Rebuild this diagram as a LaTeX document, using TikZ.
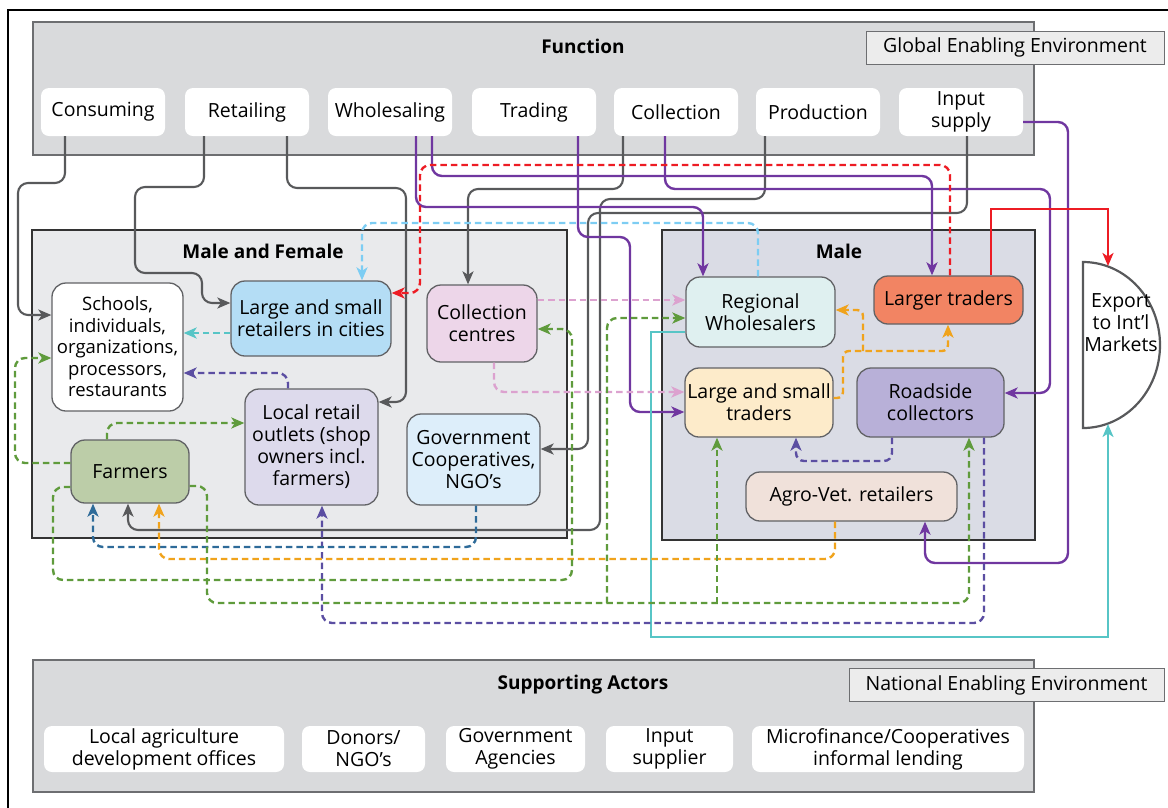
\documentclass[tikz,border=0pt]{standalone}
\usepackage{fontspec}
\setmainfont{Open Sans}
\usetikzlibrary{arrows.meta}

\definecolor{framefill}{HTML}{D9DADC}
\definecolor{frameline}{HTML}{6D6E71}
\definecolor{mfFill}{HTML}{E9EAEC}
\definecolor{mFill}{HTML}{DADCE5}
\definecolor{envFill}{HTML}{ECECEC}
\definecolor{nodeline}{HTML}{616265}
\definecolor{grayline}{HTML}{58595B}
\definecolor{purpline}{HTML}{7037A0}
\definecolor{indigoline}{HTML}{5B4EA2}
\definecolor{redline}{HTML}{ED1C24}
\definecolor{skyline}{HTML}{7DCDF3}
\definecolor{tealline}{HTML}{57C5C6}
\definecolor{pinkline}{HTML}{DCA2CF}
\definecolor{greenline}{HTML}{5F9B3C}
\definecolor{navyline}{HTML}{2E6B99}
\definecolor{orangeline}{HTML}{F0A31C}
\definecolor{cityFill}{HTML}{B4DDF5}
\definecolor{ccFill}{HTML}{EDD6E9}
\definecolor{lroFill}{HTML}{DDDAEC}
\definecolor{govFill}{HTML}{DDEEFA}
\definecolor{farmFill}{HTML}{BCCDA8}
\definecolor{rwFill}{HTML}{DFF0F0}
\definecolor{ltFill}{HTML}{F28463}
\definecolor{lstFill}{HTML}{FDEBCA}
\definecolor{rcFill}{HTML}{B8B0D8}
\definecolor{agroFill}{HTML}{F0E1DA}

\begin{document}
\begin{tikzpicture}[x=1pt,y=-1pt,
  txt/.style={font=\fontsize{19.5}{22}\selectfont},
  ttl/.style={font=\fontsize{19}{22}\selectfont\bfseries},
  fnbox/.style={txt,fill=white,rounded corners=8pt,inner sep=0pt,align=center,minimum height=48,minimum width=124},
  actor/.style={txt,draw=nodeline,line width=1.3pt,rounded corners=14pt,inner sep=0pt,align=center},
  envbox/.style={txt,draw=frameline,fill=envFill,line width=1pt,inner sep=0pt,minimum height=33},
  tipS/.style={-{Stealth[length=13pt,width=11pt,inset=3.5pt]}},
  link/.style={tipS,line width=2.1pt,rounded corners=10pt},
  dlink/.style={link,line width=2.4pt,dash pattern=on 6.5pt off 4pt},
  glink/.style={link,draw=grayline},
  plink/.style={link,draw=purpline,line width=2.4pt}
]
\useasboundingbox (0,0) rectangle (1168,807);
\clip (0,0) rectangle (1168,807);

% outer frame
\draw[line width=2.5pt] (8,830) -- (8,10) -- (1190,10);

% function band
\draw[fill=framefill,draw=frameline,line width=1.5pt] (33,22) rectangle (1034,155);
\node[ttl] (fnttl) at (583,46) {Function};
\node[envbox,minimum width=298] (glob) at (1015,47.5) {Global Enabling Environment};

\node[fnbox] (cons) at (103,112) {Consuming};
\node[fnbox] (ret)  at (247,112) {Retailing};
\node[fnbox] (whol) at (390,112) {Wholesaling};
\node[fnbox] (trad) at (534,112) {Trading};
\node[fnbox] (coll) at (676,112) {Collection};
\node[fnbox] (prod) at (818,112) {Production};
\node[fnbox] (inp)  at (961,112) {Input\\supply};

% supporting actors band
\draw[fill=framefill,draw=frameline,line width=1.5pt] (33,660) rectangle (1034,792);
\node[ttl] (supttl) at (583,685) {Supporting Actors};
\node[envbox,minimum width=315] (nat) at (1006.5,685) {National Enabling Environment};

\node[fnbox,minimum width=240,minimum height=46] (lado)  at (164,749) {Local agriculture\\development offices};
\node[fnbox,minimum width=123,minimum height=46] (don)   at (363.5,749) {Donors/\\NGO's};
\node[fnbox,minimum width=139,minimum height=46] (gova)  at (515.5,749) {Government\\Agencies};
\node[fnbox,minimum width=127,minimum height=46] (inps)  at (669.5,749) {Input\\supplier};
\node[fnbox,minimum width=272,minimum height=46] (micro) at (888,749) {Microfinance/Cooperatives\\informal lending};

% actor groups
\draw[fill=mfFill,draw=black!80,line width=1.5pt] (32,230) rectangle (567,538);
\node[ttl] (mfttl) at (263,251) {Male and Female};
\draw[fill=mFill,draw=black!80,line width=1.5pt] (662,230) rectangle (1035,540);
\node[ttl] (mttl) at (839,251) {Male};

% actors
\node[actor,fill=white,minimum width=131,minimum height=128,font=\fontsize{18.5}{21.5}\selectfont] (sch) at (117.5,347)
  {Schools,\\individuals,\\organizations,\\processors,\\restaurants};
\node[actor,fill=cityFill,minimum width=160,minimum height=75] (city) at (311,318.5)
  {Large and small\\retailers in cities};
\node[actor,fill=ccFill,minimum width=110,minimum height=77] (cc) at (482,323.5)
  {Collection\\centres};
\node[actor,fill=lroFill,minimum width=133,minimum height=116] (lro) at (311.5,447)
  {Local retail\\outlets (shop\\owners incl.\\farmers)};
\node[actor,fill=govFill,minimum width=133,minimum height=91] (gov) at (473.5,459.5)
  {Government\\Cooperatives,\\NGO's};
\node[actor,fill=farmFill,minimum width=118,minimum height=63] (farm) at (130,471.5)
  {Farmers};
\node[actor,fill=rwFill,minimum width=149,minimum height=70] (rw) at (760.5,312)
  {Regional\\Wholesalers};
\node[actor,fill=ltFill,minimum width=149,minimum height=48] (lt) at (948.5,300)
  {Larger traders};
\node[actor,fill=lstFill,minimum width=148,minimum height=69] (lst) at (759,402.5)
  {Large and small\\traders};
\node[actor,fill=rcFill,minimum width=147,minimum height=69] (rc) at (930.5,402.5)
  {Roadside\\collectors};
\node[actor,fill=agroFill,minimum width=211,minimum height=49] (agro) at (851.5,496.5)
  {Agro-Vet. retailers};

% export market (half disc)
\draw[fill=white,draw=grayline,line width=2.2pt] (1083,262) -- (1083,428)
  arc[start angle=90,end angle=-90,x radius=77,y radius=83] -- cycle;
\node[txt,align=center] (exp) at (1121,323) {Export\\to Int'l\\Markets};
\coordinate (expin)  at (1108,266);
\coordinate (expout) at (1108,424);
\coordinate (obr) at (863,351);
\coordinate (gbrA) at (607,603);
\coordinate (gbrB) at (717,603);

% gray flows from functions
\draw[glink] (cons.south -| 65,0) -- (65,183) -- (18,183) -- (18,315) -- (sch.west |- 0,315);
\draw[glink] (ret.south -| 204,0) -- (204,187) -- (135,187) -- (135,273) -- (202,273) -- (202,303) -- (city.west |- 0,303);
\draw[glink] (ret.south -| 287,0) -- (287,188) -- (406,188) -- (406,402) -- (lro.east |- 0,402);
\draw[glink] (coll.south -| 623,0) -- (623,189) -- (468,189) -- (cc.north -| 468,0);
\draw[glink] (prod.south -| 765,0) -- (765,199) -- (600,199) -- (600,530) -- (128,530) -- (farm.south -| 128,0);
\draw[glink] (inp.south -| 967,0) -- (967,213) -- (588,213) -- (588,449) -- (gov.east |- 0,449);

% purple flows from functions
\draw[plink] (whol.south -| 416,0) -- (416,207) -- (703,207) -- (rw.north -| 703,0);
\draw[plink] (whol.south -| 432,0) -- (432,176) -- (932,176) -- (lt.north -| 932,0);
\draw[plink] (trad.south -| 578,0) -- (578,237) -- (630,237) -- (630,412) -- (lst.west |- 0,412);
\draw[plink] (coll.south -| 665,0) -- (665,189) -- (1050,189) -- (1050,393) -- (rc.east |- 0,393);
\draw[plink] (inp.east |- 0,122) -- (1068,122) -- (1068,563) -- (925,563) -- (agro.south -| 925,0);

% larger traders
\draw[dlink,draw=redline] (lt.north -| 950,0) -- (950,165) -- (420,165) -- (420,293) -- (city.east |- 0,293);
\draw[link,draw=redline,line width=2.4pt,rounded corners=0pt] (lt.north -| 991,0) -- (991,209) -- (1108,209) -- (expin);

% regional wholesalers
\draw[dlink,draw=skyline] (rw.north -| 758,0) -- (758,223) -- (362,223) -- (city.north -| 362,0);
\draw[link,draw=tealline,line width=2pt,rounded corners=0pt] (rw.west |- 0,332) -- (651,332) -- (651,637) -- (1108,637) -- (expout);

% retailers in cities
\draw[dlink,draw=tealline] (city.west |- 0,333) -- (sch.east |- 0,333);

% collection centres
\draw[dlink,draw=pinkline] (cc.east |- 0,300) -- (rw.west |- 0,300);
\draw[dlink,draw=pinkline] (cc.south -| 494,0) -- (494,392) -- (lst.west |- 0,392);

% local retail outlets and roadside collectors
\draw[dlink,draw=indigoline] (lro.north -| 288,0) -- (288,373) -- (sch.east |- 0,373);
\draw[dlink,draw=indigoline,rounded corners=8pt] (rc.south -| 892,0) -- (892,461) -- (796,461) -- (lst.south -| 796,0);
\draw[dlink,draw=indigoline] (rc.south -| 984,0) -- (984,623) -- (322,623) -- (lro.south -| 322,0);

% government cooperatives
\draw[dlink,draw=navyline] (gov.south -| 476,0) -- (476,547) -- (93,547) -- (farm.south -| 93,0);

% agro-vet and traders
\draw[dlink,draw=orangeline] (agro.south -| 835,0) -- (835,559) -- (159,559) -- (farm.south -| 159,0);
\draw[dlink,draw=orangeline,rounded corners=6pt] (lst.east |- 0,398) -- (843,398) -- (843,351) -- (948,351) -- (lt.south -| 948,0);
\draw[dlink,draw=orangeline,rounded corners=6pt] (obr) -- (863,310) -- (rw.east |- 0,310);

% farmers
\draw[dlink,draw=greenline] (farm.west |- 0,463) -- (15,463) -- (15,358) -- (sch.west |- 0,358);
\draw[dlink,draw=greenline] (farm.north -| 107,0) -- (107,423) -- (lro.west |- 0,423);
\draw[dlink,draw=greenline] (farm.west |- 0,487) -- (53,487) -- (53,580) -- (572,580) -- (572,329) -- (cc.east |- 0,329);
\draw[dlink,draw=greenline] (farm.east |- 0,486) -- (207,486) -- (207,603) -- (969,603) -- (rc.south -| 969,0);
\draw[dlink,draw=greenline] (gbrA) -- (607,318) -- (rw.west |- 0,318);
\draw[dlink,draw=greenline] (gbrB) -- (lst.south -| 717,0);
\end{tikzpicture}
\end{document}
